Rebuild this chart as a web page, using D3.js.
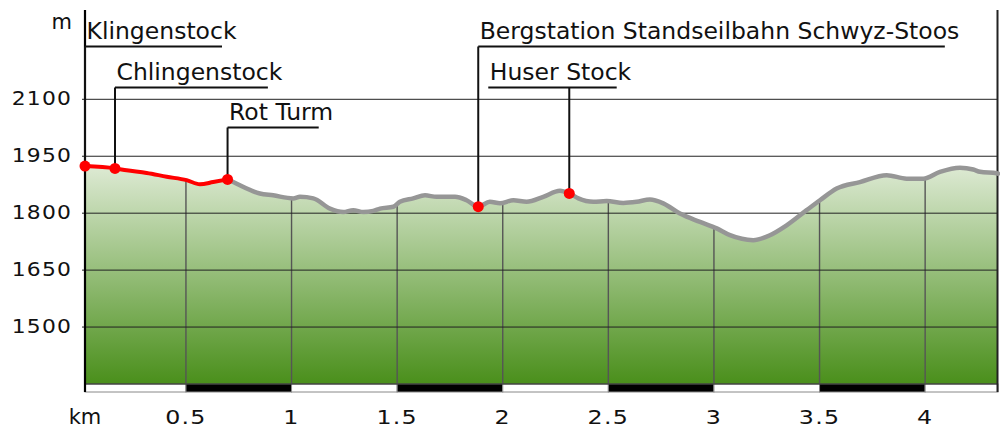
<!DOCTYPE html>
<html>
<head>
<meta charset="utf-8">
<script src="https://cdn.jsdelivr.net/npm/d3@7/dist/d3.min.js"></script>
<style>
html,body{margin:0;padding:0;background:#fff;}
svg{display:block;font-family:"DejaVu Sans",Verdana,sans-serif;}
</style>
</head>
<body>
<svg id="chart" width="1000" height="428"></svg>
<script>
// ---- data ----
const distKm = [0.022,0.164,0.219,0.314,0.409,0.503,0.566,0.629,0.697,0.724,0.85,0.913,1.008,1.04,1.103,1.182,1.245,1.292,1.34,1.387,1.419,1.482,1.513,1.576,1.632,1.687,1.726,1.774,1.829,1.884,1.939,1.987,2.05,2.113,2.192,2.271,2.315,2.358,2.429,2.492,2.571,2.634,2.697,2.76,2.839,2.934,3.013,3.076,3.186,3.265,3.344,3.439,3.502,3.581,3.691,3.818,3.912,3.991,4.07,4.165,4.228,4.26,4.339,4.345];
const elevM  = [1924,1918,1913,1906,1896,1887,1876,1882,1889,1882,1852,1847,1839,1843,1839,1812,1803,1808,1803,1806,1812,1817,1830,1839,1847,1843,1843,1843,1834,1817,1830,1826,1834,1830,1843,1859,1852,1839,1830,1832,1827,1830,1836,1826,1799,1777,1760,1742,1729,1742,1768,1808,1834,1865,1882,1900,1891,1891,1909,1920,1915,1909,1905,1904];
const yTicks = [1500,1650,1800,1950,2100];
const xTicks = [0.5,1,1.5,2,2.5,3,3.5,4];
const xTickLabels = ["0.5","1","1.5","2","2.5","3","3.5","4"];
const poiNames = ["Klingenstock","Chlingenstock","Rot Turm","Bergstation Standseilbahn Schwyz-Stoos","Huser Stock"];
const poiKm   = [0.022,0.164,0.697,1.884,2.315];
const poiElev = [1924,1918,1889,1817,1852];
const redUntilKm = 0.697;
const yUnit = "m", xUnit = "km";

// ---- layout ----
const labelTier = [0,1,2,0,1];
const tierBaseline = [39,80,120];
const labelShift = [0,0,0,0,-81];
const frameTop = 10;

const svg = d3.select("#chart");
const x = d3.scaleLinear().domain([0.022,4.345]).range([85,998]);
const y = d3.scaleLinear().domain([1350,2100]).range([384,99.3]);
const xMin = x.domain()[0], xMax = x.domain()[1], yBase = y.domain()[0];
const pts = distKm.map((d,i)=>({k:d,e:elevM[i]}));

const defs = svg.append("defs");
const grad = defs.append("linearGradient").attr("id","g").attr("gradientUnits","userSpaceOnUse")
  .attr("x1",0).attr("x2",0).attr("y1",y(1950)).attr("y2",y(yBase));
grad.append("stop").attr("offset","0%").attr("stop-color","#e4eedc");
grad.append("stop").attr("offset","100%").attr("stop-color","#4a8f1b");

const area = d3.area().x(d=>x(d.k)).y0(y(yBase)).y1(d=>y(d.e)).curve(d3.curveMonotoneX);
const line = d3.line().x(d=>x(d.k)).y(d=>y(d.e)).curve(d3.curveMonotoneX);

defs.append("clipPath").attr("id","clipA").append("path").attr("d",area(pts));

svg.append("path").attr("d",area(pts)).attr("fill","url(#g)");

// vertical grid inside the area
svg.append("g").attr("clip-path","url(#clipA)").selectAll("line").data(xTicks).join("line")
  .attr("x1",d=>x(d)).attr("x2",d=>x(d)).attr("y1",y(yBase)).attr("y2",frameTop)
  .attr("stroke","#555").attr("stroke-width",1.4);

// horizontal grid
svg.append("g").selectAll("line").data(yTicks).join("line")
  .attr("x1",x(xMin)-3).attr("x2",x(xMax)).attr("y1",d=>y(d)).attr("y2",d=>y(d))
  .attr("stroke","#222").attr("stroke-width",1);

// scale bar
const segs = [xMin].concat(xTicks).concat([xMax]);
const barG = svg.append("g");
for(let i=0;i<segs.length-1;i++){
  barG.append("rect").attr("x",x(segs[i])).attr("y",y(yBase)).attr("width",x(segs[i+1])-x(segs[i])).attr("height",8)
    .attr("fill", i%2===0 ? "#fff" : "#000").attr("stroke","#888").attr("stroke-width",1);
}
svg.append("line").attr("x1",x(xMin)).attr("x2",x(xMax)).attr("y1",y(yBase)).attr("y2",y(yBase)).attr("stroke","#222").attr("stroke-width",1.2);

// frame lines
svg.append("line").attr("x1",x(xMin)).attr("x2",x(xMin)).attr("y1",frameTop).attr("y2",y(yBase)+8).attr("stroke","#000").attr("stroke-width",2.2);
svg.append("line").attr("x1",x(xMax)-0.5).attr("x2",x(xMax)-0.5).attr("y1",frameTop).attr("y2",y(yBase)+8).attr("stroke","#222").attr("stroke-width",2);

// profile lines
svg.append("path").attr("d",line(pts.filter(d=>d.k>=redUntilKm))).attr("fill","none")
  .attr("stroke","#969696").attr("stroke-width",4.5).attr("stroke-linejoin","round").attr("stroke-linecap","round");
svg.append("path").attr("d",line(pts.filter(d=>d.k<=redUntilKm))).attr("fill","none")
  .attr("stroke","#ff0000").attr("stroke-width",4).attr("stroke-linejoin","round").attr("stroke-linecap","round");

// y tick labels
svg.append("g").selectAll("text").data(yTicks).join("text")
  .attr("transform",d=>`translate(72,${y(d)+6}) scale(1.15,1)`)
  .attr("text-anchor","end").attr("font-size",19).attr("letter-spacing",1).attr("fill","#111").text(d=>d);
svg.append("text").attr("x",72).attr("y",29).attr("text-anchor","end").attr("font-size",21).attr("fill","#111").text(yUnit);

// x tick labels
svg.append("g").selectAll("text").data(xTicks).join("text")
  .attr("transform",d=>`translate(${x(d)},424) scale(1.25,1)`)
  .attr("text-anchor","middle").attr("font-size",19).attr("letter-spacing",1).attr("fill","#111").text((d,i)=>xTickLabels[i]);
svg.append("text").attr("x",x(xMin)).attr("y",424).attr("text-anchor","middle").attr("font-size",21).attr("fill","#111").text(xUnit);

// POI labels
const labG = svg.append("g");
poiNames.forEach((name,i)=>{
  const px = x(poiKm[i]), py = y(poiElev[i]);
  const bl = tierBaseline[labelTier[i]];
  const lx = px + labelShift[i];
  const t = labG.append("text").attr("x",lx+1.5).attr("y",bl).attr("font-size",23.5).attr("fill","#111").text(name);
  const w = t.node().getComputedTextLength();
  const uy = bl+7.5;
  labG.append("line").attr("x1",lx).attr("x2",lx+w-13).attr("y1",uy).attr("y2",uy).attr("stroke","#111").attr("stroke-width",2);
  labG.append("line").attr("x1",px).attr("x2",px).attr("y1",uy).attr("y2",py).attr("stroke","#111").attr("stroke-width",2);
});
svg.append("g").selectAll("circle").data(poiKm).join("circle")
  .attr("cx",d=>x(d)).attr("cy",(d,i)=>y(poiElev[i])).attr("r",5.5).attr("fill","#ff0000");
</script>
</body>
</html>
